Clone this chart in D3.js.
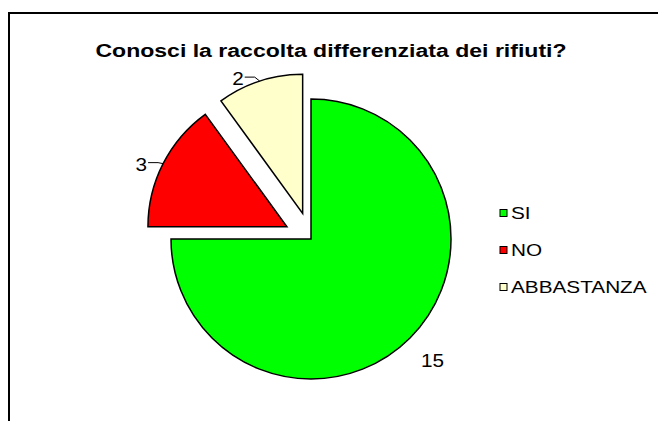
<!DOCTYPE html>
<html>
<head>
<meta charset="utf-8">
<script src="https://cdn.jsdelivr.net/npm/d3@7"></script>
<style>
  body { margin: 0; background: #fff; }
  svg { display: block; font-family: "Liberation Sans", Arial, sans-serif; }
</style>
</head>
<body>
<svg width="658" height="421"></svg>
<script>
var categories = ["SI", "NO", "ABBASTANZA"];
var values = [15, 3, 2];
var colors = ["#00FF00", "#FF0000", "#FFFFCC"];
var exploded = [false, true, true];
var title = "Conosci la raccolta differenziata dei rifiuti?";

var svg = d3.select("svg");

// the original text is rendered wider than Liberation Sans at the same height
function stretch(sel, k) {
  sel.each(function() {
    var w = this.getComputedTextLength();
    d3.select(this)
      .attr("textLength", w * k)
      .attr("lengthAdjust", "spacingAndGlyphs");
  });
}

// chart area border (runs off the right and bottom edges)
svg.append("rect")
  .attr("x", 9)
  .attr("y", 13)
  .attr("width", 700)
  .attr("height", 500)
  .attr("fill", "none")
  .attr("stroke", "#000")
  .attr("stroke-width", 2);

svg.append("text")
  .attr("x", 331)
  .attr("y", 57)
  .attr("text-anchor", "middle")
  .style("font-size", "18px")
  .style("font-weight", "bold")
  .text(title)
  .call(stretch, 1.28);

var cx = 311, cy = 239;
var radius = 140;
var explodeDist = 27;

var pie = d3.pie().sort(null).value(function(d) { return d; });
var arcs = pie(values);

function dir(a) {
  return [Math.sin(a), -Math.cos(a)];
}

var g = svg.append("g").attr("transform", "translate(" + cx + "," + cy + ")");

arcs.forEach(function(d, i) {
  var mid = (d.startAngle + d.endAngle) / 2;
  var v = dir(mid);
  d.off = exploded[i] ? [v[0] * explodeDist, v[1] * explodeDist] : [0, 0];
  d.mid = mid;
  d.r = exploded[i] ? radius - 1 : radius;
});

g.selectAll("path.slice")
  .data(arcs)
  .enter().append("path")
  .attr("class", "slice")
  .attr("transform", function(d) { return "translate(" + d.off[0] + "," + d.off[1] + ")"; })
  .attr("d", function(d) {
    return d3.arc().innerRadius(0).outerRadius(d.r)(d);
  })
  .attr("fill", function(d, i) { return colors[i]; })
  .attr("stroke", "#000")
  .attr("stroke-width", 1.5)
  .attr("stroke-linejoin", "miter");

// data labels
arcs.forEach(function(d, i) {
  var v = dir(d.mid);
  if (exploded[i]) {
    var p = [d.off[0] + v[0] * d.r, d.off[1] + v[1] * d.r];
    var hook = i == 1 ? 1 : 4;
    g.append("polyline")
      .attr("points", [p, [p[0] - 5, p[1] - hook], [p[0] - 15, p[1] - hook]].map(function(q) { return q.join(","); }).join(" "))
      .attr("fill", "none")
      .attr("stroke", "#000")
      .attr("stroke-width", 1);
    g.append("text")
      .attr("x", p[0] - 16)
      .attr("y", p[1] - hook + 2)
      .attr("dy", "0.35em")
      .attr("text-anchor", "end")
      .style("font-size", "18px")
      .text(values[i])
      .call(stretch, 1.15);
  } else {
    g.append("text")
      .attr("x", v[0] * 172)
      .attr("y", v[1] * 172)
      .attr("dy", "0.35em")
      .attr("text-anchor", "middle")
      .style("font-size", "18px")
      .text(values[i])
      .call(stretch, 1.15);
  }
});

// legend
var legendY = d3.scalePoint().domain(categories).range([213, 287]);
var legend = svg.append("g");
var items = legend.selectAll("g")
  .data(categories)
  .enter().append("g")
  .attr("transform", function(d) { return "translate(500," + legendY(d) + ")"; });

items.append("rect")
  .attr("x", 0)
  .attr("y", -3.5)
  .attr("width", 7)
  .attr("height", 7)
  .attr("fill", function(d, i) { return colors[i]; })
  .attr("stroke", "#000")
  .attr("stroke-width", 1);

items.append("text")
  .attr("x", 11)
  .attr("y", 0)
  .attr("dy", "0.35em")
  .style("font-size", "17px")
  .text(function(d) { return d; })
  .call(stretch, 1.22);
</script>
</body>
</html>
